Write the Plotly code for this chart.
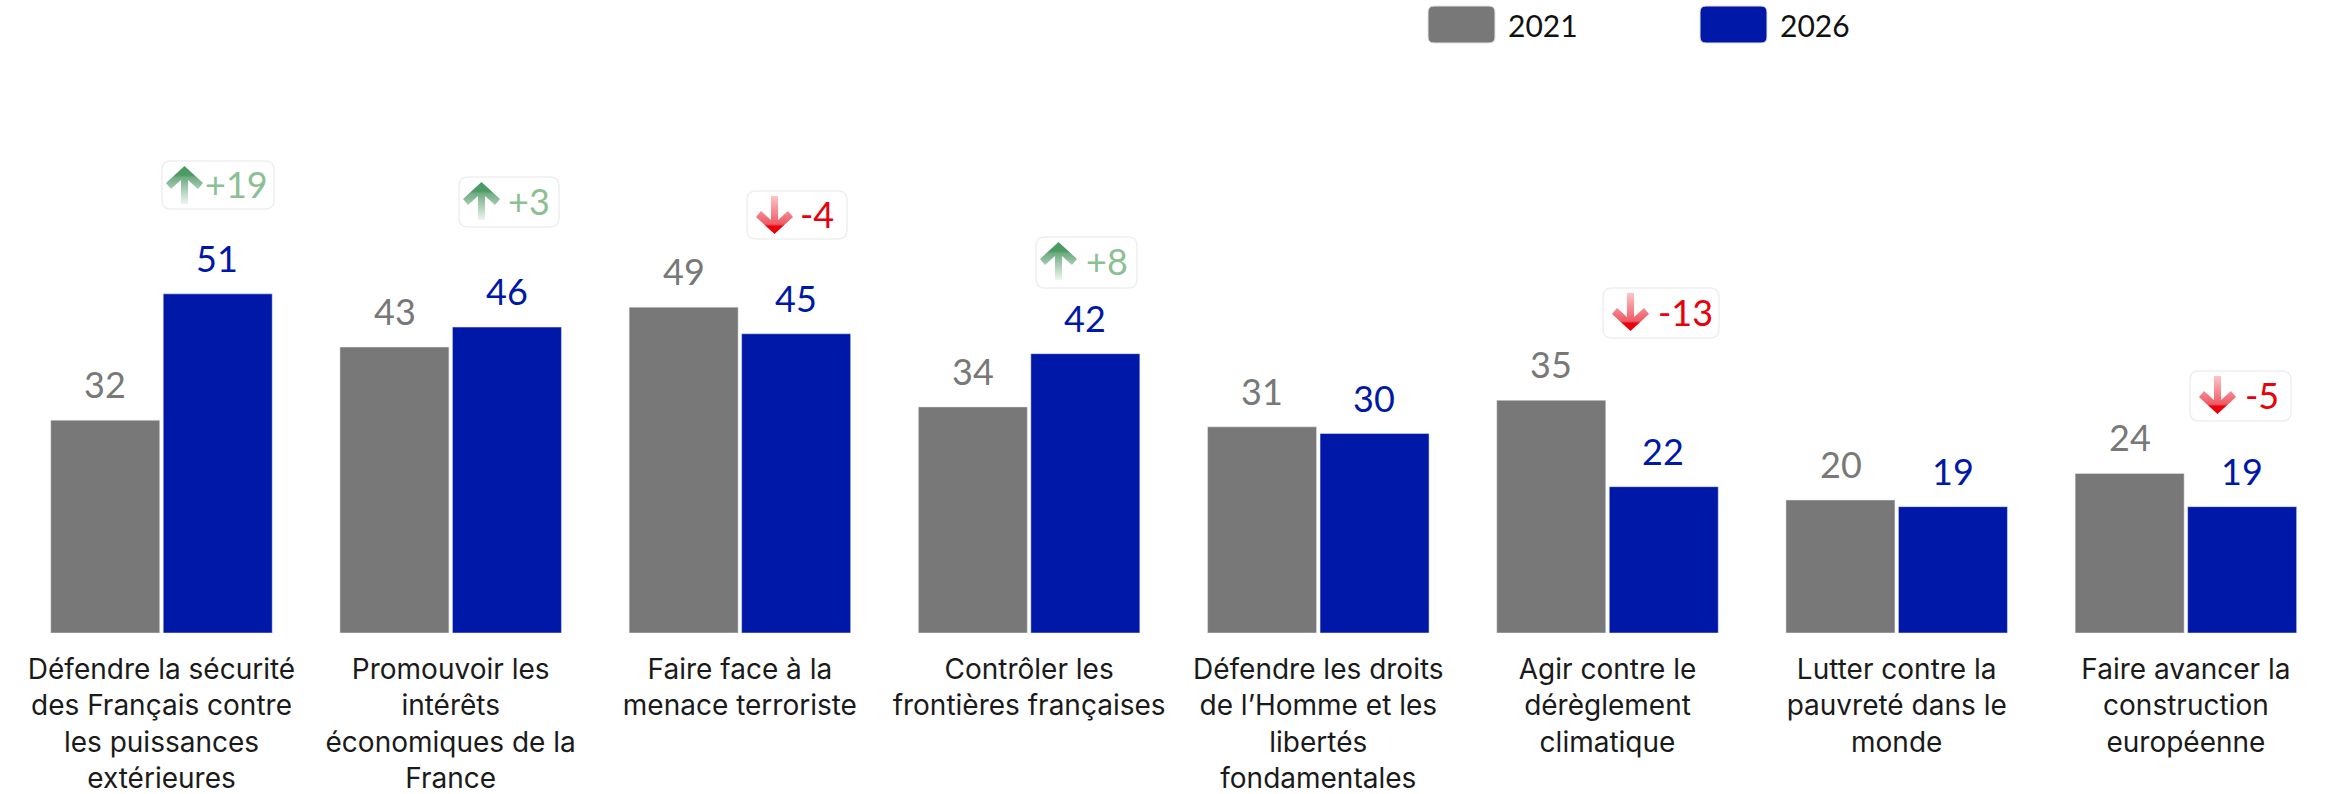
import base64
import plotly.graph_objects as go

categories = [
    "Défendre la sécurité<br>des Français contre<br>les puissances<br>extérieures",
    "Promouvoir les<br>intérêts<br>économiques de la<br>France",
    "Faire face à la<br>menace terroriste",
    "Contrôler les<br>frontières françaises",
    "Défendre les droits<br>de l’Homme et les<br>libertés<br>fondamentales",
    "Agir contre le<br>dérèglement<br>climatique",
    "Lutter contre la<br>pauvreté dans le<br>monde",
    "Faire avancer la<br>construction<br>européenne",
]
values_2021 = [32, 43, 49, 34, 31, 35, 20, 24]
values_2026 = [51, 46, 45, 42, 30, 22, 19, 19]
change_labels = ["+19", "+3", "-4", "+8", None, "-13", None, "-5"]

W, H = 2325, 794
BASE = 633
FONT = "Lato"
LABEL_FONT = "Inter"
GRAY, BLUE = "#787878", "#0018A8"
GREEN, RED = "#8CBF94", "#E8000B"

# badge boxes in page pixels: left, top, right, bottom
badge_boxes = [(162, 161, 274, 209), (459, 177, 559, 227), (747, 191, 847, 239),
               (1036, 237, 1137, 288), None, (1603, 288, 1719, 338), None, (2190, 371, 2291, 421)]
badge_text_x = [237, 529, 817, 1107, None, 1685, None, 2262]


def px(x):
    return x / W


def py(y):
    return (BASE - y) / BASE


def rounded(x0, y0, x1, y1, r):
    return (f"M{px(x0+r)},{py(y0)} L{px(x1-r)},{py(y0)} Q{px(x1)},{py(y0)} {px(x1)},{py(y0+r)} "
            f"L{px(x1)},{py(y1-r)} Q{px(x1)},{py(y1)} {px(x1-r)},{py(y1)} "
            f"L{px(x0+r)},{py(y1)} Q{px(x0)},{py(y1)} {px(x0)},{py(y1-r)} "
            f"L{px(x0)},{py(y0+r)} Q{px(x0)},{py(y0)} {px(x0+r)},{py(y0)} Z")


def arrow_uri(up):
    pts = "18.5,0 37,17 32,23 22,14 22,38 15,38 15,14 5,23 0,17"
    if up:
        stops = ('<stop offset="0" stop-color="#4C9A64"/><stop offset="0.24" stop-color="#4C9A64"/>'
                 '<stop offset="0.3" stop-color="#6FAC82"/><stop offset="1" stop-color="#EEF6F0"/>')
        tf = ""
    else:
        stops = ('<stop offset="0" stop-color="#E8000B"/><stop offset="0.2" stop-color="#E8000B"/>'
                 '<stop offset="0.26" stop-color="#EE5A64"/><stop offset="1" stop-color="#FFC4C6"/>')
        tf = ' transform="translate(0,38) scale(1,-1)"'
    svg = (f'<svg xmlns="http://www.w3.org/2000/svg" width="37" height="38" viewBox="0 0 37 38">'
           f'<defs><linearGradient id="g" gradientUnits="userSpaceOnUse" x1="0" y1="0" x2="0" y2="38">{stops}'
           f'</linearGradient></defs><g{tf}><polygon points="{pts}" fill="url(#g)"/></g></svg>')
    return "data:image/svg+xml;base64," + base64.b64encode(svg.encode()).decode()


x_pos = list(range(len(categories)))
fig = go.Figure()
fig.add_bar(x=x_pos, y=values_2021, name="2021", marker_color=GRAY, showlegend=False)
fig.add_bar(x=x_pos, y=values_2026, name="2026", marker_color=BLUE, showlegend=False)

shapes, images, annots = [], [], []

for i in x_pos:
    for vals, col, dx in ((values_2021, GRAY, -56), (values_2026, BLUE, 56)):
        annots.append(dict(x=i, y=vals[i], text=str(vals[i]), xref="x", yref="y", xshift=dx,
                           yshift=12, yanchor="bottom", showarrow=False,
                           font=dict(family=FONT, size=36, color=col)))

for label, box, tx in zip(change_labels, badge_boxes, badge_text_x):
    if label is None:
        continue
    x0, y0, x1, y1 = box
    up = label.startswith("+")
    shapes.append(dict(type="path", xref="paper", yref="paper", path=rounded(x0, y0, x1, y1, 9),
                       fillcolor="white", line=dict(color="#EFEFEF", width=1.5), layer="below"))
    images.append(dict(source=arrow_uri(up), xref="paper", yref="paper", x=px(x0 + 4 if up else x0 + 9),
                       y=py(y0 + 5), sizex=37 / W, sizey=38 / BASE, xanchor="left", yanchor="top",
                       sizing="stretch", layer="above"))
    annots.append(dict(x=px(tx), y=py((y0 + y1) / 2 - 1), xref="paper", yref="paper", text=label,
                       xanchor="center", yanchor="middle", showarrow=False,
                       font=dict(family=FONT, size=36, color=GREEN if up else RED)))

# legend
for name, col, x0 in (("2021", GRAY, 1428), ("2026", BLUE, 1700)):
    shapes.append(dict(type="path", xref="paper", yref="paper", path=rounded(x0, 6, x0 + 67, 43, 6),
                       fillcolor=col, line=dict(color="#E4E4E4", width=1), layer="below"))
    annots.append(dict(x=px(x0 + 78), y=py(25), xref="paper", yref="paper", text=name, xanchor="left",
                       yanchor="middle", showarrow=False, font=dict(family=FONT, size=30, color="#111111")))

fig.update_layout(
    width=W, height=H, margin=dict(l=0, r=0, t=0, b=H - BASE, autoexpand=False), autosize=False,
    paper_bgcolor="white", plot_bgcolor="white", barmode="group", bargap=0.222, bargroupgap=0.031,
    showlegend=False, shapes=shapes, images=images, annotations=annots,
    font=dict(family=FONT),
    xaxis=dict(range=[-0.5584, 7.481], tickmode="array", tickvals=x_pos, ticktext=categories,
               tickangle=0, ticks="", showgrid=False, zeroline=False, showline=False,
               automargin=False, ticklabelstandoff=17,
               tickfont=dict(family=LABEL_FONT, size=28, color="#1A1A1A")),
    yaxis=dict(range=[0, BASE / 6.65], visible=False, showgrid=False, zeroline=False),
)
fig.write_html("out.html", config={"displayModeBar": False},
               post_script="document.body.style.margin='0';document.body.style.overflow='hidden';")
